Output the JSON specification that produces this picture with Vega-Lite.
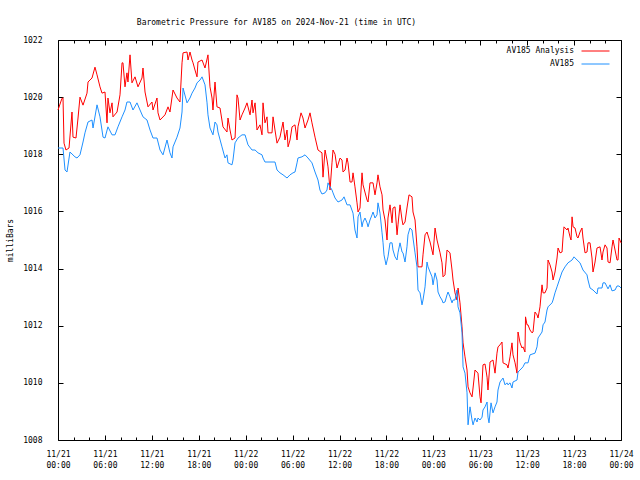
{
  "$schema": "https://vega.github.io/schema/vega-lite/v6.json",
  "width": 563,
  "height": 400,
  "autosize": "none",
  "padding": {"left": 58, "top": 40, "right": 19, "bottom": 40},
  "background": "white",
  "config": {
    "view": {"stroke": "black", "strokeWidth": 1},
    "font": "DejaVu Sans Mono",
    "axis": {"grid": false, "domainColor": "black", "tickColor": "black", "labelColor": "black", "labelFont": "DejaVu Sans Mono", "labelFontSize": 8, "titleFont": "DejaVu Sans Mono", "titleFontSize": 8, "titleFontWeight": "normal", "titleColor": "black"}
  },
  "title": {"text": "Barometric Pressure for AV185 on 2024-Nov-21 (time in UTC)", "font": "DejaVu Sans Mono", "fontSize": 8, "fontWeight": "normal", "color": "black", "anchor": "middle", "frame": "group", "dx": -63, "offset": 9},
  "datasets": {
    "analysis": [
      {"h":0,"p":1019.55},{"h":0.51,"p":1019.96},{"h":0.64,"p":1019.97},{"h":0.77,"p":1018.39},{"h":1.02,"p":1018.15},{"h":1.41,"p":1018.22},{"h":1.79,"p":1019.48},{"h":1.92,"p":1018.6},{"h":2.3,"p":1018.57},{"h":2.56,"p":1019.27},{"h":2.81,"p":1020.0},{"h":3.2,"p":1019.72},{"h":3.71,"p":1020.14},{"h":3.84,"p":1020.53},{"h":4.35,"p":1020.67},{"h":4.73,"p":1021.05},{"h":4.99,"p":1020.78},{"h":5.37,"p":1020.36},{"h":5.63,"p":1020.14},{"h":6.01,"p":1020.18},{"h":6.27,"p":1019.1},{"h":6.39,"p":1019.97},{"h":6.65,"p":1019.45},{"h":6.91,"p":1019.8},{"h":7.03,"p":1019.31},{"h":7.55,"p":1019.48},{"h":7.93,"p":1020.08},{"h":8.19,"p":1021.2},{"h":8.31,"p":1021.2},{"h":8.57,"p":1020.36},{"h":8.82,"p":1020.85},{"h":8.95,"p":1020.53},{"h":9.21,"p":1021.48},{"h":9.46,"p":1020.5},{"h":9.85,"p":1020.71},{"h":10.23,"p":1020.36},{"h":10.74,"p":1020.67},{"h":10.87,"p":1021.02},{"h":11.13,"p":1020.18},{"h":11.51,"p":1019.66},{"h":12.02,"p":1019.83},{"h":12.15,"p":1019.55},{"h":12.66,"p":1019.97},{"h":12.79,"p":1019.45},{"h":13.05,"p":1019.2},{"h":13.68,"p":1019.38},{"h":14.07,"p":1019.66},{"h":14.32,"p":1019.48},{"h":14.71,"p":1020.25},{"h":15.22,"p":1019.97},{"h":15.6,"p":1019.83},{"h":15.86,"p":1021.2},{"h":15.99,"p":1021.55},{"h":16.5,"p":1021.58},{"h":16.63,"p":1021.3},{"h":16.88,"p":1021.58},{"h":17.14,"p":1021.3},{"h":17.27,"p":1021.2},{"h":17.52,"p":1020.95},{"h":17.78,"p":1020.71},{"h":17.9,"p":1021.23},{"h":18.42,"p":1021.3},{"h":18.8,"p":1021.02},{"h":19.18,"p":1021.48},{"h":19.44,"p":1020.36},{"h":19.7,"p":1019.97},{"h":19.82,"p":1019.55},{"h":20.08,"p":1020.53},{"h":20.33,"p":1019.66},{"h":20.72,"p":1019.62},{"h":21.1,"p":1018.96},{"h":21.61,"p":1018.78},{"h":21.74,"p":1019.27},{"h":22.0,"p":1018.85},{"h":22.25,"p":1018.5},{"h":22.64,"p":1018.57},{"h":22.89,"p":1020.08},{"h":23.02,"p":1019.97},{"h":23.28,"p":1019.2},{"h":23.53,"p":1019.38},{"h":23.92,"p":1019.62},{"h":24.17,"p":1019.8},{"h":24.56,"p":1019.38},{"h":24.81,"p":1019.9},{"h":24.94,"p":1019.45},{"h":25.2,"p":1019.8},{"h":25.45,"p":1018.85},{"h":25.83,"p":1019.03},{"h":26.09,"p":1018.68},{"h":26.22,"p":1019.8},{"h":26.47,"p":1019.1},{"h":26.73,"p":1019.31},{"h":26.86,"p":1018.75},{"h":27.37,"p":1018.75},{"h":27.5,"p":1019.31},{"h":27.75,"p":1018.85},{"h":28.01,"p":1018.39},{"h":28.39,"p":1018.6},{"h":28.78,"p":1019.13},{"h":29.03,"p":1018.5},{"h":29.29,"p":1018.85},{"h":29.42,"p":1018.26},{"h":29.67,"p":1018.5},{"h":29.93,"p":1018.96},{"h":30.31,"p":1019.03},{"h":30.57,"p":1018.5},{"h":30.69,"p":1018.96},{"h":31.08,"p":1019.45},{"h":31.33,"p":1019.27},{"h":31.59,"p":1018.92},{"h":31.97,"p":1019.2},{"h":32.23,"p":1019.45},{"h":32.48,"p":1019.1},{"h":32.87,"p":1018.6},{"h":33.25,"p":1018.15},{"h":33.76,"p":1018.05},{"h":33.89,"p":1017.2},{"h":34.15,"p":1018.15},{"h":34.4,"p":1017.8},{"h":34.53,"p":1017.56},{"h":34.79,"p":1016.75},{"h":35.04,"p":1017.7},{"h":35.17,"p":1018.15},{"h":35.43,"p":1018.0},{"h":35.68,"p":1017.52},{"h":36.07,"p":1017.87},{"h":36.32,"p":1017.8},{"h":36.45,"p":1017.38},{"h":36.71,"p":1017.45},{"h":36.96,"p":1017.87},{"h":37.09,"p":1017.7},{"h":37.35,"p":1017.03},{"h":37.6,"p":1017.03},{"h":37.73,"p":1017.35},{"h":37.98,"p":1016.86},{"h":38.24,"p":1016.3},{"h":38.37,"p":1015.98},{"h":38.62,"p":1016.12},{"h":38.88,"p":1017.35},{"h":39.01,"p":1016.93},{"h":39.52,"p":1016.4},{"h":39.65,"p":1016.33},{"h":39.9,"p":1017.0},{"h":40.29,"p":1017.0},{"h":40.54,"p":1016.58},{"h":40.8,"p":1017.0},{"h":40.92,"p":1017.28},{"h":41.18,"p":1016.86},{"h":41.44,"p":1016.58},{"h":41.57,"p":1016.05},{"h":41.82,"p":1015.7},{"h":42.08,"p":1015.0},{"h":42.2,"p":1015.77},{"h":42.46,"p":1016.23},{"h":42.72,"p":1015.6},{"h":42.84,"p":1016.12},{"h":43.1,"p":1016.16},{"h":43.36,"p":1015.18},{"h":43.48,"p":1015.53},{"h":43.74,"p":1016.23},{"h":44.0,"p":1015.7},{"h":44.12,"p":1015.53},{"h":44.38,"p":1015.63},{"h":44.63,"p":1016.12},{"h":44.89,"p":1016.58},{"h":45.27,"p":1016.51},{"h":45.4,"p":1015.98},{"h":45.66,"p":1015.7},{"h":45.91,"p":1014.76},{"h":46.04,"p":1014.06},{"h":46.55,"p":1014.06},{"h":46.68,"p":1014.48},{"h":46.94,"p":1015.18},{"h":47.19,"p":1015.28},{"h":47.58,"p":1014.93},{"h":47.96,"p":1014.48},{"h":48.22,"p":1015.42},{"h":48.47,"p":1015.0},{"h":48.86,"p":1014.55},{"h":49.11,"p":1014.2},{"h":49.24,"p":1013.71},{"h":49.49,"p":1013.78},{"h":49.75,"p":1014.65},{"h":50.13,"p":1014.55},{"h":50.39,"p":1013.95},{"h":50.52,"p":1013.6},{"h":50.77,"p":1013.15},{"h":51.03,"p":1012.9},{"h":51.16,"p":1013.32},{"h":51.41,"p":1012.8},{"h":51.67,"p":1011.96},{"h":51.8,"p":1011.4},{"h":52.05,"p":1010.91},{"h":52.31,"p":1010.45},{"h":52.44,"p":1009.86},{"h":52.69,"p":1009.65},{"h":52.95,"p":1009.51},{"h":53.08,"p":1009.82},{"h":53.33,"p":1010.45},{"h":53.71,"p":1010.34},{"h":53.97,"p":1009.51},{"h":54.1,"p":1009.3},{"h":54.35,"p":1010.63},{"h":54.61,"p":1010.66},{"h":54.87,"p":1010.2},{"h":54.99,"p":1009.75},{"h":55.25,"p":1010.73},{"h":55.63,"p":1010.8},{"h":55.89,"p":1010.34},{"h":56.14,"p":1011.04},{"h":56.27,"p":1011.26},{"h":56.53,"p":1011.33},{"h":56.78,"p":1011.43},{"h":56.91,"p":1010.7},{"h":57.42,"p":1010.63},{"h":57.55,"p":1010.52},{"h":57.81,"p":1010.91},{"h":58.06,"p":1011.4},{"h":58.19,"p":1010.98},{"h":58.45,"p":1010.7},{"h":58.7,"p":1010.34},{"h":58.83,"p":1011.78},{"h":59.09,"p":1011.4},{"h":59.34,"p":1011.22},{"h":59.47,"p":1011.26},{"h":59.72,"p":1011.08},{"h":59.79,"p":1012.31},{"h":59.98,"p":1012.03},{"h":60.11,"p":1012.03},{"h":60.36,"p":1011.85},{"h":60.62,"p":1011.75},{"h":60.75,"p":1011.78},{"h":61.0,"p":1012.48},{"h":61.26,"p":1012.38},{"h":61.39,"p":1012.27},{"h":61.64,"p":1012.66},{"h":61.9,"p":1013.43},{"h":62.03,"p":1013.15},{"h":62.28,"p":1013.15},{"h":62.54,"p":1013.32},{"h":62.67,"p":1014.3},{"h":62.92,"p":1014.13},{"h":63.18,"p":1013.88},{"h":63.31,"p":1013.6},{"h":63.56,"p":1013.88},{"h":63.82,"p":1014.37},{"h":63.95,"p":1014.72},{"h":64.2,"p":1014.55},{"h":64.46,"p":1014.58},{"h":64.58,"p":1015.07},{"h":64.71,"p":1015.46},{"h":65.1,"p":1015.35},{"h":65.22,"p":1015.42},{"h":65.48,"p":1015.11},{"h":65.61,"p":1015.0},{"h":65.74,"p":1015.81},{"h":65.87,"p":1015.46},{"h":66.12,"p":1015.42},{"h":66.38,"p":1015.11},{"h":66.5,"p":1015.07},{"h":66.76,"p":1015.28},{"h":67.01,"p":1015.42},{"h":67.14,"p":1015.07},{"h":67.4,"p":1014.55},{"h":67.65,"p":1014.58},{"h":67.78,"p":1014.9},{"h":68.04,"p":1014.9},{"h":68.29,"p":1014.37},{"h":68.42,"p":1013.88},{"h":68.68,"p":1014.23},{"h":68.93,"p":1014.72},{"h":69.32,"p":1014.76},{"h":69.57,"p":1014.3},{"h":69.7,"p":1014.58},{"h":69.96,"p":1014.83},{"h":70.21,"p":1014.72},{"h":70.34,"p":1014.23},{"h":70.6,"p":1014.2},{"h":70.85,"p":1014.76},{"h":70.98,"p":1015.0},{"h":71.24,"p":1014.65},{"h":71.49,"p":1014.3},{"h":71.62,"p":1014.3},{"h":71.75,"p":1015.07},{"h":72.0,"p":1014.9}
    ],
    "obs": [
      {"h":0,"p":1018.22},{"h":0.64,"p":1018.22},{"h":0.9,"p":1017.45},{"h":1.15,"p":1017.38},{"h":1.53,"p":1018.08},{"h":2.17,"p":1017.91},{"h":2.43,"p":1017.87},{"h":2.81,"p":1017.98},{"h":3.2,"p":1018.43},{"h":3.45,"p":1018.75},{"h":3.84,"p":1019.13},{"h":4.35,"p":1019.2},{"h":4.48,"p":1018.92},{"h":4.99,"p":1019.73},{"h":5.37,"p":1019.31},{"h":5.76,"p":1018.6},{"h":6.01,"p":1018.57},{"h":6.39,"p":1018.96},{"h":6.91,"p":1018.68},{"h":7.29,"p":1018.68},{"h":7.67,"p":1018.96},{"h":8.19,"p":1019.31},{"h":8.57,"p":1019.55},{"h":8.82,"p":1019.83},{"h":9.21,"p":1019.83},{"h":9.59,"p":1019.55},{"h":10.1,"p":1019.8},{"h":10.49,"p":1019.55},{"h":10.87,"p":1019.31},{"h":11.38,"p":1019.2},{"h":11.77,"p":1018.85},{"h":12.15,"p":1018.57},{"h":12.66,"p":1018.57},{"h":13.05,"p":1018.15},{"h":13.43,"p":1017.98},{"h":13.94,"p":1018.5},{"h":14.32,"p":1018.05},{"h":14.58,"p":1017.87},{"h":14.71,"p":1018.26},{"h":15.22,"p":1018.6},{"h":15.6,"p":1018.92},{"h":15.86,"p":1019.48},{"h":15.99,"p":1020.32},{"h":16.5,"p":1019.8},{"h":16.88,"p":1019.97},{"h":17.14,"p":1020.14},{"h":17.52,"p":1020.32},{"h":17.78,"p":1020.5},{"h":18.16,"p":1020.6},{"h":18.42,"p":1020.71},{"h":18.8,"p":1020.43},{"h":19.06,"p":1019.8},{"h":19.18,"p":1019.38},{"h":19.44,"p":1018.92},{"h":19.82,"p":1018.68},{"h":20.08,"p":1019.13},{"h":20.33,"p":1019.03},{"h":20.46,"p":1018.78},{"h":20.97,"p":1018.26},{"h":21.36,"p":1017.87},{"h":21.61,"p":1017.98},{"h":21.74,"p":1017.7},{"h":22.25,"p":1017.63},{"h":22.38,"p":1017.8},{"h":22.64,"p":1018.4},{"h":23.02,"p":1018.57},{"h":23.53,"p":1018.68},{"h":23.92,"p":1018.68},{"h":24.3,"p":1018.33},{"h":24.81,"p":1018.15},{"h":25.2,"p":1018.15},{"h":25.58,"p":1018.05},{"h":26.09,"p":1017.98},{"h":26.22,"p":1017.87},{"h":26.47,"p":1017.73},{"h":27.75,"p":1017.73},{"h":28.01,"p":1017.45},{"h":28.39,"p":1017.35},{"h":28.78,"p":1017.28},{"h":29.29,"p":1017.17},{"h":29.67,"p":1017.28},{"h":30.05,"p":1017.35},{"h":30.31,"p":1017.38},{"h":30.57,"p":1017.7},{"h":30.69,"p":1017.87},{"h":31.2,"p":1017.91},{"h":31.59,"p":1017.98},{"h":31.97,"p":1017.87},{"h":32.48,"p":1017.7},{"h":32.87,"p":1017.38},{"h":33.25,"p":1017.1},{"h":33.5,"p":1016.75},{"h":33.76,"p":1016.61},{"h":34.15,"p":1016.65},{"h":34.4,"p":1016.75},{"h":34.53,"p":1017.0},{"h":34.79,"p":1016.86},{"h":35.04,"p":1016.75},{"h":35.17,"p":1016.65},{"h":35.43,"p":1016.47},{"h":35.81,"p":1016.33},{"h":36.32,"p":1016.4},{"h":36.58,"p":1016.51},{"h":36.96,"p":1016.23},{"h":37.35,"p":1016.23},{"h":37.73,"p":1015.94},{"h":37.98,"p":1015.35},{"h":38.24,"p":1015.07},{"h":38.37,"p":1015.81},{"h":38.62,"p":1015.98},{"h":38.88,"p":1015.46},{"h":39.01,"p":1015.63},{"h":39.26,"p":1015.77},{"h":39.52,"p":1015.6},{"h":39.65,"p":1015.46},{"h":39.9,"p":1015.7},{"h":40.16,"p":1015.88},{"h":40.29,"p":1015.98},{"h":40.54,"p":1015.77},{"h":40.8,"p":1015.88},{"h":40.92,"p":1016.3},{"h":41.18,"p":1015.94},{"h":41.44,"p":1015.25},{"h":41.57,"p":1014.9},{"h":41.69,"p":1014.48},{"h":41.95,"p":1014.13},{"h":42.2,"p":1014.41},{"h":42.46,"p":1014.9},{"h":42.72,"p":1014.9},{"h":42.84,"p":1014.65},{"h":43.1,"p":1014.41},{"h":43.36,"p":1014.3},{"h":43.48,"p":1014.55},{"h":43.74,"p":1014.9},{"h":44.0,"p":1014.58},{"h":44.12,"p":1014.55},{"h":44.38,"p":1014.23},{"h":44.63,"p":1014.76},{"h":44.76,"p":1015.18},{"h":45.01,"p":1015.42},{"h":45.27,"p":1015.35},{"h":45.4,"p":1015.07},{"h":45.66,"p":1014.55},{"h":45.91,"p":1014.06},{"h":46.04,"p":1013.25},{"h":46.3,"p":1013.15},{"h":46.55,"p":1012.73},{"h":46.68,"p":1012.9},{"h":46.94,"p":1013.36},{"h":47.19,"p":1014.23},{"h":47.32,"p":1014.06},{"h":47.58,"p":1013.88},{"h":47.83,"p":1013.71},{"h":47.96,"p":1013.43},{"h":48.22,"p":1013.85},{"h":48.47,"p":1013.6},{"h":48.6,"p":1013.18},{"h":48.86,"p":1013.01},{"h":49.11,"p":1012.9},{"h":49.24,"p":1012.8},{"h":49.49,"p":1012.83},{"h":49.75,"p":1013.08},{"h":49.88,"p":1013.18},{"h":50.13,"p":1013.01},{"h":50.39,"p":1012.8},{"h":50.52,"p":1012.9},{"h":50.77,"p":1012.9},{"h":51.03,"p":1013.25},{"h":51.16,"p":1012.66},{"h":51.41,"p":1012.45},{"h":51.67,"p":1011.75},{"h":51.8,"p":1010.56},{"h":52.05,"p":1010.34},{"h":52.31,"p":1009.65},{"h":52.44,"p":1008.53},{"h":52.69,"p":1009.16},{"h":52.95,"p":1008.7},{"h":53.08,"p":1008.53},{"h":53.33,"p":1008.77},{"h":53.59,"p":1008.63},{"h":53.71,"p":1008.77},{"h":53.97,"p":1008.7},{"h":54.23,"p":1008.8},{"h":54.35,"p":1009.05},{"h":54.61,"p":1009.16},{"h":54.87,"p":1009.33},{"h":54.99,"p":1008.8},{"h":55.12,"p":1008.6},{"h":55.38,"p":1009.3},{"h":55.63,"p":1008.95},{"h":55.89,"p":1009.16},{"h":56.14,"p":1009.33},{"h":56.27,"p":1009.75},{"h":56.53,"p":1010.03},{"h":56.91,"p":1010.17},{"h":57.17,"p":1009.93},{"h":57.42,"p":1010.0},{"h":57.55,"p":1009.93},{"h":57.81,"p":1010.0},{"h":58.06,"p":1009.82},{"h":58.19,"p":1010.03},{"h":58.7,"p":1010.1},{"h":58.83,"p":1010.38},{"h":59.09,"p":1010.45},{"h":59.47,"p":1010.56},{"h":59.72,"p":1010.7},{"h":60.11,"p":1010.7},{"h":60.36,"p":1010.98},{"h":61.0,"p":1011.04},{"h":61.26,"p":1011.26},{"h":61.39,"p":1011.57},{"h":61.9,"p":1011.78},{"h":62.03,"p":1012.03},{"h":62.28,"p":1012.13},{"h":62.54,"p":1012.55},{"h":62.67,"p":1012.66},{"h":63.18,"p":1012.8},{"h":63.31,"p":1012.9},{"h":63.56,"p":1013.15},{"h":63.82,"p":1013.36},{"h":64.2,"p":1013.67},{"h":64.46,"p":1013.88},{"h":64.84,"p":1014.06},{"h":65.22,"p":1014.2},{"h":65.74,"p":1014.3},{"h":65.99,"p":1014.41},{"h":66.38,"p":1014.3},{"h":66.76,"p":1014.2},{"h":67.14,"p":1013.95},{"h":67.65,"p":1013.78},{"h":67.78,"p":1013.6},{"h":68.04,"p":1013.32},{"h":68.42,"p":1013.25},{"h":68.93,"p":1013.11},{"h":69.06,"p":1013.32},{"h":69.57,"p":1013.32},{"h":69.7,"p":1013.5},{"h":69.96,"p":1013.5},{"h":70.21,"p":1013.36},{"h":70.34,"p":1013.29},{"h":70.6,"p":1013.43},{"h":70.85,"p":1013.22},{"h":71.24,"p":1013.25},{"h":71.49,"p":1013.39},{"h":71.75,"p":1013.39},{"h":72.0,"p":1013.32}
    ]
  },
  "layer": [
    {
      "data": {"name": "analysis"},
      "mark": {"type": "line", "strokeWidth": 1, "interpolate": "linear"},
      "encoding": {
        "x": {"field": "h", "type": "quantitative", "scale": {"domain": [0, 72], "nice": false, "zero": false},
          "axis": {"orient": "bottom", "title": null, "values": [0,2,4,6,8,10,12,14,16,18,20,22,24,26,28,30,32,34,36,38,40,42,44,46,48,50,52,54,56,58,60,62,64,66,68,70,72],
            "tickSize": {"condition": {"test": "datum.value % 6 === 0", "value": -5}, "value": -3},
            "labelExpr": "datum.value % 6 === 0 ? ['11/' + (21 + floor(datum.value / 24)), ((datum.value % 24) < 10 ? '0' : '') + (datum.value % 24) + ':00'] : ''",
            "labelPadding": 15, "labelLineHeight": 11.5, "labelOverlap": false, "labelFlush": false, "labelBound": false, "domain": false}},
        "y": {"field": "p", "type": "quantitative", "scale": {"domain": [1008, 1022], "nice": false, "zero": false},
          "axis": {"orient": "left", "title": "milliBars", "format": "d", "values": [1008,1010,1012,1014,1016,1018,1020,1022], "tickSize": -5, "labelPadding": 21, "labelFlush": false, "labelBound": false, "domain": false, "titlePadding": 8}},
        "color": {"datum": "AV185 Analysis", "type": "nominal",
          "scale": {"domain": ["AV185 Analysis", "AV185"], "range": ["#ff0000", "#1e90ff"]},
          "legend": {"title": null, "orient": "none", "legendX": 416, "legendY": 7, "symbolType": "M-7,0H7", "symbolSize": 16, "symbolStrokeWidth": 1, "labelAlign": "right", "labelOffset": -25.5, "symbolOffset": 117.5, "rowPadding": 5, "labelFont": "DejaVu Sans Mono", "labelFontSize": 8, "labelColor": "black", "padding": 0}}
      }
    },
    {
      "data": {"name": "obs"},
      "mark": {"type": "line", "strokeWidth": 1, "interpolate": "linear"},
      "encoding": {
        "x": {"field": "h", "type": "quantitative",
          "axis": {"orient": "top", "title": null, "labels": false, "values": [0,2,4,6,8,10,12,14,16,18,20,22,24,26,28,30,32,34,36,38,40,42,44,46,48,50,52,54,56,58,60,62,64,66,68,70,72],
            "tickSize": {"condition": {"test": "datum.value % 6 === 0", "value": -5}, "value": -3}, "domain": false}},
        "y": {"field": "p", "type": "quantitative",
          "axis": {"orient": "right", "title": null, "labels": false, "values": [1008,1010,1012,1014,1016,1018,1020,1022], "tickSize": -5, "domain": false}},
        "color": {"datum": "AV185", "type": "nominal"}
      }
    }
  ],
  "resolve": {"axis": {"x": "independent", "y": "independent"}}
}
